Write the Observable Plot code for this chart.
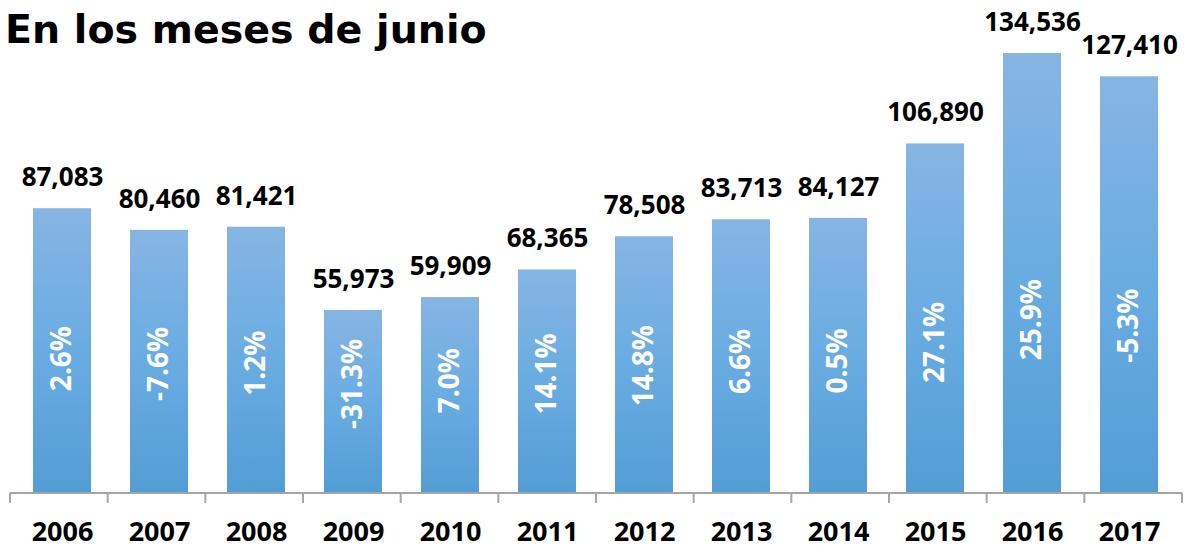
<!DOCTYPE html>
<html>
<head>
<meta charset="utf-8">
<script src="https://cdn.jsdelivr.net/npm/d3@7"></script>
<script src="https://cdn.jsdelivr.net/npm/@observablehq/plot@0.6"></script>
<style>
  html, body { margin: 0; padding: 0; background: #fff; }
  #wrap { position: relative; width: 1200px; height: 552px; }
  #title { position: absolute; left: 5px; top: 9px; font-family: "DejaVu Sans", sans-serif; font-weight: bold; font-size: 39.5px; line-height: 40px; color: #000; white-space: nowrap; z-index: 2; }
  #chart { position: absolute; left: 0; top: 0; }
</style>
</head>
<body>
<div id="wrap">
  <div id="title">En los meses de junio</div>
  <div id="chart"></div>
</div>
<script>
const years = ["2006","2007","2008","2009","2010","2011","2012","2013","2014","2015","2016","2017"];
const values = [87083, 80460, 81421, 55973, 59909, 68365, 78508, 83713, 84127, 106890, 134536, 127410];
const changes = ["2.6%","-7.6%","1.2%","-31.3%","7.0%","14.1%","14.8%","6.6%","0.5%","27.1%","25.9%","-5.3%"];

const data = years.map((y, i) => ({year: y, value: values[i], change: changes[i]}));
const maxV = d3.max(values);
const fmt = d3.format(",");

// axis baseline + tick marks between categories
function axisMark(index, scales, channels, dims) {
  const g = d3.create("svg:g");
  const x0 = dims.marginLeft, x1 = dims.width - dims.marginRight;
  const yb = dims.height - dims.marginBottom;
  const step = (x1 - x0) / years.length;
  g.append("line").attr("x1", x0).attr("x2", x1).attr("y1", yb).attr("y2", yb)
    .attr("stroke", "#a6a6a6").attr("stroke-width", 2);
  for (let i = 0; i <= years.length; i++) {
    const xx = x0 + i * step;
    g.append("line").attr("x1", xx).attr("x2", xx).attr("y1", yb).attr("y2", yb + 10)
      .attr("stroke", "#a6a6a6").attr("stroke-width", 2);
  }
  return g.node();
}

const chart = Plot.plot({
  width: 1200,
  height: 552,
  marginTop: 53,
  marginBottom: 59,
  marginLeft: 10,
  marginRight: 18,
  style: {fontFamily: "'Open Sans', sans-serif", background: "transparent"},
  x: {domain: years, paddingInner: 0.4, paddingOuter: 0.2, axis: null},
  y: {domain: [0, maxV], axis: null},
  marks: [
    Plot.barY(data, {x: "year", y: "value", fill: "url(#barGrad)"}),
    axisMark,
    Plot.text(data, {x: "year", y: "value", text: d => fmt(d.value), dy: -31,
      fontSize: 26, fontWeight: "bold", fill: "#000"}),
    Plot.text(data, {x: "year", y: d => (d.value / 2 + 39000) / 2, text: "change", rotate: -90,
      fontSize: 28, fontWeight: "bold", fill: "#fff"}),
    Plot.text(years, {x: d => d, frameAnchor: "bottom", dy: 47, text: d => d,
      fontSize: 27, fontWeight: "bold", fill: "#000"})
  ]
});

const svg = d3.select(chart);
const defs = svg.insert("defs", ":first-child");
const grad = defs.append("linearGradient").attr("id", "barGrad")
  .attr("x1", 0).attr("y1", 0).attr("x2", 0).attr("y2", 1);
grad.append("stop").attr("offset", "0%").attr("stop-color", "#86b5e3");
grad.append("stop").attr("offset", "50%").attr("stop-color", "#69ace2");
grad.append("stop").attr("offset", "100%").attr("stop-color", "#539dd5");

document.getElementById("chart").appendChild(chart);
</script>
</body>
</html>
